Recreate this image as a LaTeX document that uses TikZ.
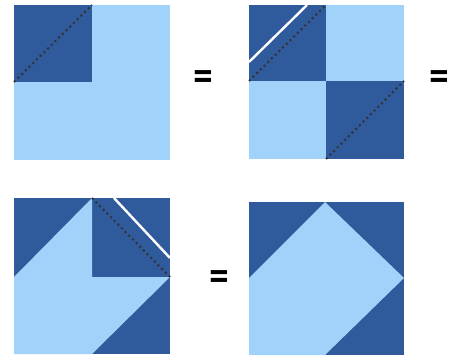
\documentclass[tikz,border=0pt]{standalone}
\usepackage{fontspec}
\newfontfamily\eqfont{DejaVu Sans}
\usepackage{graphicx}
\definecolor{darkq}{RGB}{47,90,156}
\definecolor{lightq}{RGB}{161,211,250}
\tikzset{
  darkfill/.style={fill=darkq},
  lightfill/.style={fill=lightq},
  fold/.style={draw=black!80, line width=2pt, dash pattern=on 2pt off 3.2pt},
  cutline/.style={draw=white, line width=2.4pt},
  eqsign/.style={inner sep=0pt, font=\eqfont\bfseries\fontsize{26}{26}\selectfont}
}
\begin{document}
\begin{tikzpicture}[x=1pt,y=-1pt]
\useasboundingbox (0,0) rectangle (454,361);
% square 1
\fill[lightfill] (14,5) rectangle (170,160);
\fill[darkfill] (14,5) rectangle (92,82);
\draw[fold] (14,82) -- (92,5);
\node[eqsign] (eq1) at (203,79) {\scalebox{1}[1.35]{=}};
% square 2
\fill[lightfill] (249,5) rectangle (404,159);
\fill[darkfill] (249,5) rectangle (326,81);
\fill[darkfill] (326,81) rectangle (404,159);
\draw[fold] (249,81) -- (326,5);
\draw[fold] (326,159) -- (404,81);
\draw[cutline] (249,62) -- (307,5);
\node[eqsign] (eq2) at (439,79) {\scalebox{1}[1.35]{=}};
% square 3
\fill[darkfill] (14,198) rectangle (170,354);
\fill[lightfill] (14,277) -- (92,198) -- (92,277) -- (170,277) -- (92,354) -- (14,354) -- cycle;
\draw[fold] (92,198) -- (170,277);
\draw[cutline] (114,198) -- (170,258);
\node[eqsign] (eq3) at (219,279) {\scalebox{1}[1.35]{=}};
% square 4
\fill[darkfill] (249,202) rectangle (404,355);
\fill[lightfill] (249,278) -- (325,202) -- (404,278) -- (325,355) -- (249,355) -- cycle;
\end{tikzpicture}
\end{document}
